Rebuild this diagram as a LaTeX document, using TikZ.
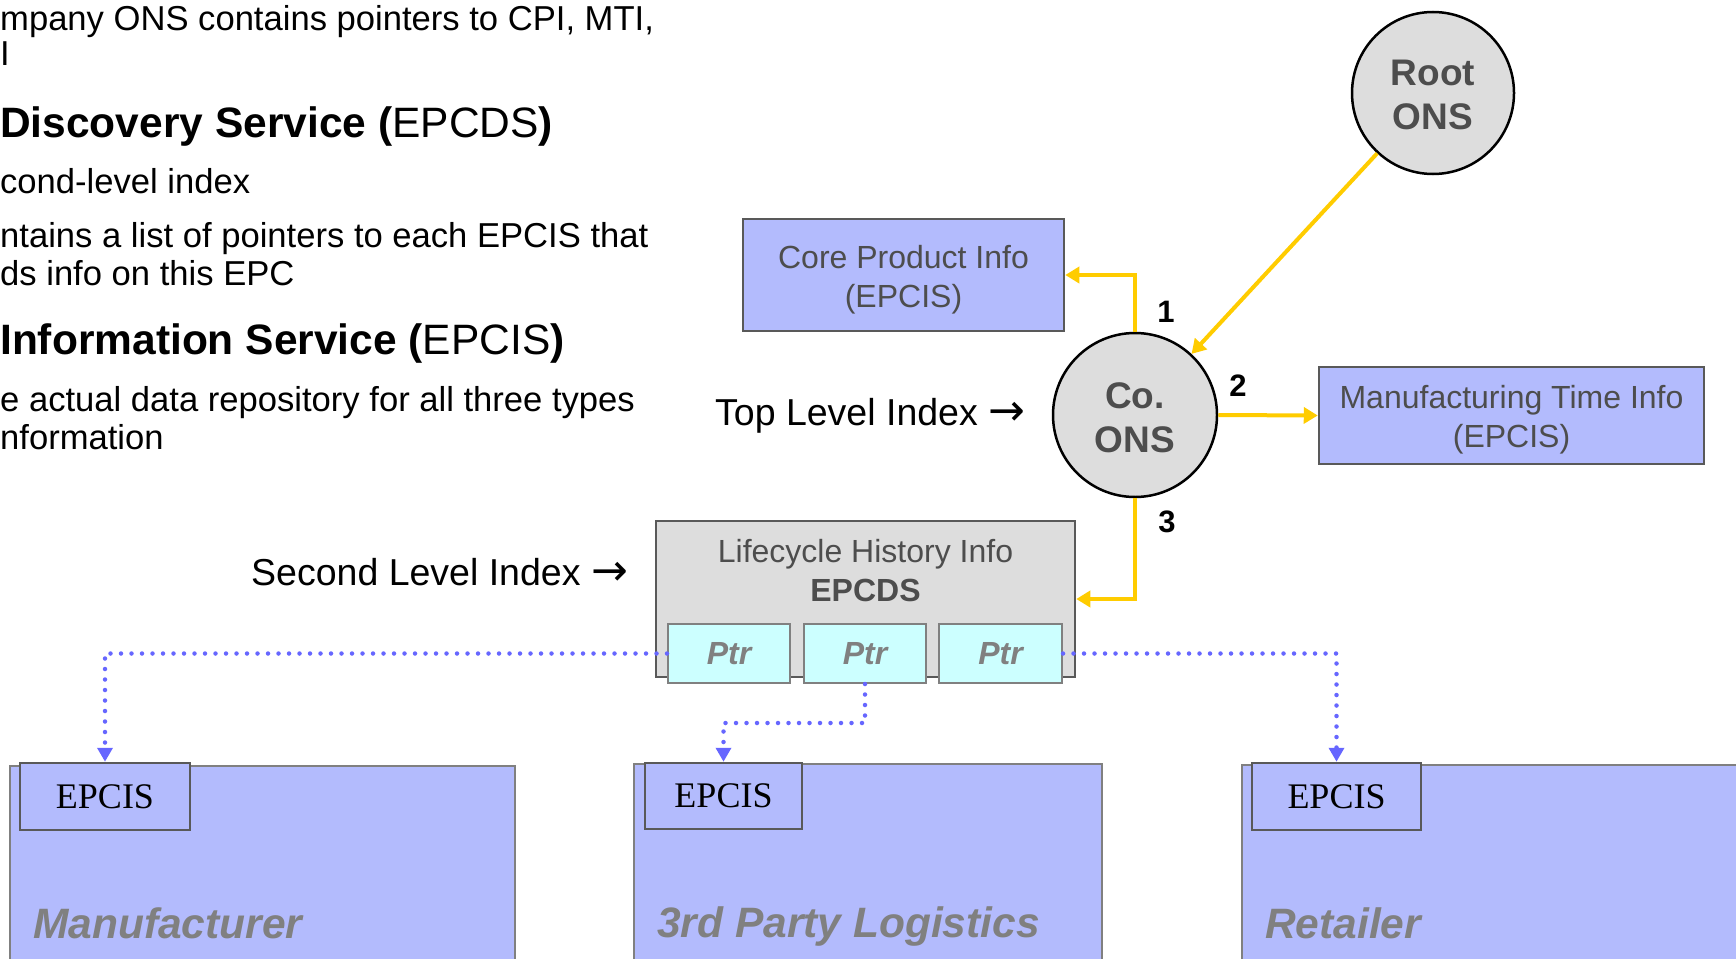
\documentclass[tikz,border=0pt]{standalone}
\usepackage{fontspec}
\setmainfont{Liberation Sans}
\newfontfamily\serifEP{Liberation Serif}
\newfontfamily\arrowfont{DejaVu Sans}
\usetikzlibrary{arrows.meta}
\definecolor{boxblue}{RGB}{179,187,253}
\definecolor{ygold}{RGB}{255,204,0}
\definecolor{dotblue}{RGB}{102,102,255}
\definecolor{ptrcyan}{RGB}{204,255,255}
\definecolor{lgray}{RGB}{221,221,221}
\definecolor{dgray}{RGB}{77,77,77}
\definecolor{mgray}{RGB}{128,128,128}
\definecolor{bgray}{RGB}{89,89,89}
\newcommand{\fsz}[2]{\fontsize{#1}{#2}\selectfont}
\newcommand{\bigarrow}{{\arrowfont\fontsize{44}{44}\selectfont →}}
\begin{document}
\begin{tikzpicture}[x=1pt,y=-1pt,
  txt/.style={anchor=base west, inner sep=0pt, text=black},
  body/.style={txt, font=\fsz{34.6}{42}},
  head/.style={txt, font=\fsz{42.5}{50}},
  ons/.style={circle, draw=black, line width=2.5pt, fill=lgray, inner sep=0pt, align=center, text=dgray, font=\fsz{37}{44}\bfseries},
  infobox/.style={rectangle, draw=bgray, line width=2.5pt, fill=boxblue, inner sep=0pt, align=center, text=dgray, font=\fsz{32}{39}},
  dsbox/.style={rectangle, draw=bgray, line width=2.5pt, fill=lgray, inner sep=0pt},
  ptrbox/.style={rectangle, draw=mgray, line width=2pt, fill=ptrcyan, inner sep=0pt, text=mgray, font=\fsz{32}{32}\bfseries\itshape},
  orgbox/.style={rectangle, draw=mgray, line width=2pt, fill=boxblue, inner sep=0pt},
  epbox/.style={rectangle, draw=bgray, line width=2.5pt, fill=boxblue, inner sep=0pt, text=black, font=\serifEP\fsz{36}{36}},
  orglabel/.style={anchor=base west, inner sep=0pt, text=mgray, font=\fsz{42.5}{42}\bfseries\itshape},
  numlabel/.style={inner sep=0pt, text=black, font=\fsz{31}{31}\bfseries},
  yarrow/.style={draw=ygold, line width=4pt, -{Triangle[length=14pt,width=16pt]}},
  dotline/.style={draw=dotblue, line width=4.5pt, line cap=round, dash pattern=on 0pt off 10.5pt, -{Triangle[length=14pt,width=15pt,fill=dotblue]}}
]
\useasboundingbox (0,0) rectangle (1736,958);
\clip (0,0) rectangle (1736,958);

% left column text
\node[body] (t1) at (0,31) {mpany ONS contains pointers to CPI, MTI,};
\node[body] (t2) at (0,65) {I};
\node[head] (t3) at (0,137) {\bfseries Discovery Service (\mdseries EPCDS\bfseries )};
\node[body] (t4) at (0,193) {cond-level index};
\node[body] (t5) at (0,247) {ntains a list of pointers to each EPCIS that};
\node[body] (t6) at (0,285) {ds info on this EPC};
\node[head] (t7) at (0,354) {\bfseries Information Service (\mdseries EPCIS\bfseries )};
\node[body] (t8) at (0,411) {e actual data repository for all three types};
\node[body] (t9) at (0,449) {nformation};

\node[body, font=\fsz{37.5}{42}] (tli) at (715,425) {Top Level Index \bigarrow};
\node[body, font=\fsz{37.5}{42}] (sli) at (251,585) {Second Level Index \bigarrow};

% ONS circles
\node[ons, minimum size=162pt] (root) at (1433,93) {};
\node[inner sep=0pt, align=center, text=dgray, font=\fsz{37}{44}\bfseries] (rootL) at (1433,94.5) {Root\\ONS};
\node[ons, minimum size=164pt] (co) at (1135,415) {};
\node[inner sep=0pt, align=center, text=dgray, font=\fsz{37}{44}\bfseries] (coL) at (1135,417.5) {Co.\\ONS};

% info boxes
\node[infobox, minimum width=321pt, minimum height=112pt] (cpi) at (903.5,275) {};
\node[inner sep=0pt, align=center, text=dgray, font=\fsz{32}{39}] (cpiL) at (903.5,279.5) {Core Product Info\\(EPCIS)};
\node[infobox, minimum width=385pt, minimum height=97pt] (mti) at (1511.5,415.5) {};
\node[inner sep=0pt, align=center, text=dgray, font=\fsz{32}{39}] (mtiL) at (1511.5,420) {Manufacturing Time Info\\(EPCIS)};

% EPCDS
\node[dsbox, minimum width=419pt, minimum height=156pt] (ds) at (865.5,599) {};
\node[inner sep=0pt, align=center, text=dgray, font=\fsz{32}{39}] (dslabel) at (865.5,571) {Lifecycle History Info\\\textbf{EPCDS}};
\node[ptrbox, minimum width=122pt, minimum height=59pt] (p1) at (729,653.5) {Ptr};
\node[ptrbox, minimum width=122pt, minimum height=59pt] (p2) at (865,653.5) {Ptr};
\node[ptrbox, minimum width=123pt, minimum height=59pt] (p3) at (1000.5,653.5) {Ptr};

% yellow arrows
\draw[yarrow] (root) -- (co);
\draw[yarrow] (co.north) |- (cpi.east);
\draw[yarrow] (co.east) -- (mti.west);
\draw[yarrow] (co.south) |- (ds.east);
\node[numlabel] (n1) at (1166,312) {1};
\node[numlabel] (n2) at (1238,386) {2};
\node[numlabel] (n3) at (1167,522) {3};

% bottom organisations
\node[orgbox, minimum width=505pt, minimum height=214pt] (mfr) at (262.5,873) {};
\node[orgbox, minimum width=468pt, minimum height=216pt] (tpl) at (868,872) {};
\node[orgbox, minimum width=518pt, minimum height=215pt] (ret) at (1501,872.5) {};
\node[epbox, minimum width=170pt, minimum height=67pt] (mfrE) at (105,796.5) {EPCIS};
\node[epbox, minimum width=157pt, minimum height=66pt] (tplE) at (723.5,796) {EPCIS};
\node[epbox, minimum width=169pt, minimum height=67pt] (retE) at (1336.5,796.5) {EPCIS};
\node[orglabel] (mfrL) at (33,938) {Manufacturer};
\node[orglabel] (tplL) at (657,937) {3rd Party Logistics};
\node[orglabel] (retL) at (1265,938) {Retailer};

% dotted pointers
\coordinate (bend2) at (865,723);
\draw[dotline] (p1.west) -| (mfrE.north);
\draw[dotline] (p2.south) -- (bend2) -| (tplE.north);
\draw[dotline] (p3.east) -| (retE.north);
\end{tikzpicture}
\end{document}
